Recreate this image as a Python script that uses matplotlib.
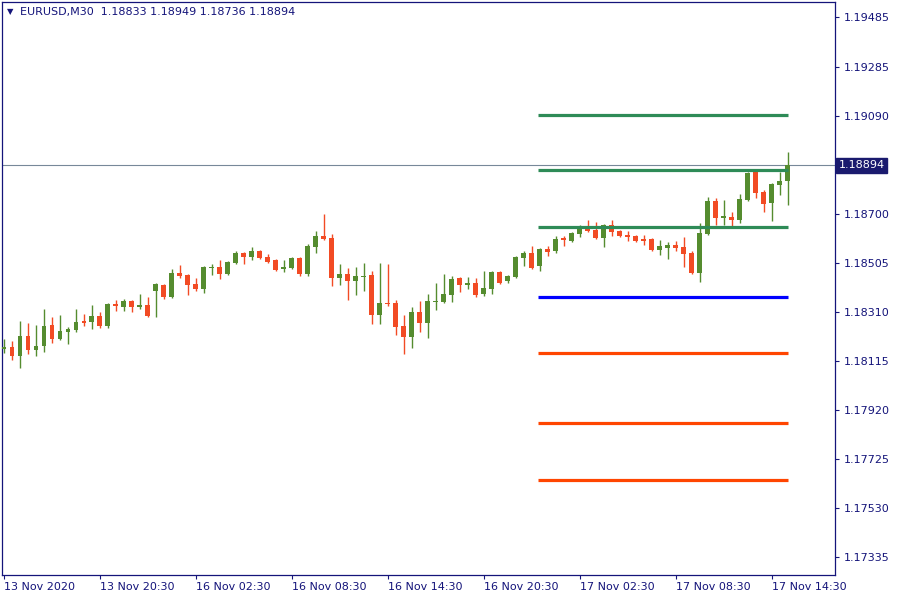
import numpy as np
import matplotlib
matplotlib.use("Agg")
import matplotlib.pyplot as plt
from matplotlib.transforms import blended_transform_factory

# EURUSD M30 candles, 13 Nov 14:30 .. 17 Nov 15:30
opens = [1.18163, 1.18171, 1.18135, 1.18215, 1.18159, 1.18175, 1.18259, 1.18203, 1.18231, 1.18239,
         1.18275, 1.18271, 1.18294, 1.18255, 1.18342, 1.18330, 1.18354, 1.18330, 1.18338, 1.18394,
         1.18418, 1.18370, 1.18466, 1.18458, 1.18422, 1.18402, 1.18486, 1.18490, 1.18462, 1.18505,
         1.18545, 1.18529, 1.18553, 1.18529, 1.18517, 1.18482, 1.18486, 1.18525, 1.18462, 1.18569,
         1.18613, 1.18605, 1.18446, 1.18462, 1.18434, 1.18450, 1.18458, 1.18298, 1.18346, 1.18346,
         1.18255, 1.18211, 1.18310, 1.18267, 1.18350, 1.18350, 1.18378, 1.18446, 1.18418, 1.18426,
         1.18382, 1.18402, 1.18470, 1.18434, 1.18450, 1.18525, 1.18545, 1.18494, 1.18561, 1.18553,
         1.18605, 1.18593, 1.18621, 1.18649, 1.18637, 1.18605, 1.18657, 1.18633, 1.18617, 1.18613,
         1.18601, 1.18601, 1.18557, 1.18565, 1.18577, 1.18569, 1.18545, 1.18466, 1.18621, 1.18752,
         1.18685, 1.18689, 1.18677, 1.18756, 1.18872, 1.18788, 1.18744, 1.18816, 1.18833]
highs = [1.18203, 1.18195, 1.18275, 1.18267, 1.18259, 1.18322, 1.18290, 1.18298, 1.18251, 1.18322,
         1.18302, 1.18338, 1.18310, 1.18346, 1.18358, 1.18362, 1.18358, 1.18382, 1.18370, 1.18424,
         1.18420, 1.18482, 1.18498, 1.18460, 1.18446, 1.18494, 1.18502, 1.18517, 1.18513, 1.18553,
         1.18549, 1.18569, 1.18557, 1.18541, 1.18521, 1.18517, 1.18529, 1.18529, 1.18581, 1.18633,
         1.18701, 1.18621, 1.18502, 1.18486, 1.18490, 1.18505, 1.18474, 1.18505, 1.18502, 1.18358,
         1.18298, 1.18330, 1.18354, 1.18382, 1.18426, 1.18462, 1.18454, 1.18450, 1.18450, 1.18446,
         1.18474, 1.18474, 1.18474, 1.18458, 1.18533, 1.18553, 1.18573, 1.18565, 1.18573, 1.18613,
         1.18613, 1.18629, 1.18657, 1.18677, 1.18669, 1.18661, 1.18677, 1.18637, 1.18633, 1.18617,
         1.18617, 1.18605, 1.18597, 1.18589, 1.18593, 1.18609, 1.18553, 1.18665, 1.18768, 1.18764,
         1.18756, 1.18709, 1.18780, 1.18868, 1.18876, 1.18796, 1.18824, 1.18868, 1.18949]
lows = [1.18147, 1.18119, 1.18087, 1.18143, 1.18135, 1.18151, 1.18187, 1.18199, 1.18183, 1.18231,
        1.18255, 1.18243, 1.18247, 1.18247, 1.18314, 1.18314, 1.18310, 1.18322, 1.18292, 1.18290,
        1.18362, 1.18366, 1.18446, 1.18378, 1.18394, 1.18386, 1.18458, 1.18442, 1.18458, 1.18501,
        1.18502, 1.18517, 1.18521, 1.18505, 1.18474, 1.18470, 1.18482, 1.18454, 1.18454, 1.18545,
        1.18597, 1.18414, 1.18418, 1.18358, 1.18378, 1.18394, 1.18263, 1.18263, 1.18334, 1.18219,
        1.18143, 1.18167, 1.18231, 1.18207, 1.18318, 1.18346, 1.18350, 1.18390, 1.18402, 1.18370,
        1.18374, 1.18382, 1.18422, 1.18426, 1.18446, 1.18494, 1.18482, 1.18474, 1.18533, 1.18545,
        1.18573, 1.18589, 1.18609, 1.18629, 1.18601, 1.18569, 1.18613, 1.18609, 1.18593, 1.18589,
        1.18577, 1.18553, 1.18537, 1.18521, 1.18553, 1.18490, 1.18462, 1.18430, 1.18617, 1.18657,
        1.18657, 1.18645, 1.18665, 1.18752, 1.18764, 1.18709, 1.18673, 1.18776, 1.18736]
closes = [1.18171, 1.18135, 1.18215, 1.18159, 1.18175, 1.18255, 1.18203, 1.18235, 1.18243, 1.18271,
          1.18267, 1.18294, 1.18255, 1.18342, 1.18334, 1.18354, 1.18330, 1.18338, 1.18294, 1.18422,
          1.18370, 1.18466, 1.18454, 1.18418, 1.18402, 1.18490, 1.18490, 1.18462, 1.18509, 1.18545,
          1.18529, 1.18553, 1.18525, 1.18509, 1.18478, 1.18490, 1.18525, 1.18462, 1.18573, 1.18613,
          1.18601, 1.18446, 1.18462, 1.18434, 1.18454, 1.18454, 1.18298, 1.18346, 1.18342, 1.18251,
          1.18211, 1.18310, 1.18267, 1.18354, 1.18354, 1.18382, 1.18442, 1.18418, 1.18426, 1.18378,
          1.18406, 1.18470, 1.18426, 1.18454, 1.18529, 1.18545, 1.18486, 1.18561, 1.18549, 1.18601,
          1.18597, 1.18625, 1.18653, 1.18633, 1.18605, 1.18657, 1.18629, 1.18613, 1.18609, 1.18593,
          1.18593, 1.18557, 1.18573, 1.18577, 1.18565, 1.18541, 1.18466, 1.18625, 1.18752, 1.18685,
          1.18693, 1.18677, 1.18760, 1.18864, 1.18784, 1.18740, 1.18820, 1.18832, 1.18894]

# pivot levels R3, R2, R1, P, S1, S2, S3
levels = [1.19095, 1.18876, 1.18649, 1.18370, 1.18147, 1.17868, 1.17642]
level_colors = ["#2e8b57", "#2e8b57", "#2e8b57", "#0000ff", "#ff4500", "#ff4500", "#ff4500"]
level_start, level_end = 66.8, 98

y_ticks = [1.19485, 1.19285, 1.19090, 1.18700, 1.18505, 1.18310, 1.18115,
           1.17920, 1.17725, 1.17530, 1.17335]
x_tick_pos = [0, 12, 24, 36, 48, 60, 72, 84, 96]
x_tick_labels = ["13 Nov 2020", "13 Nov 20:30", "16 Nov 02:30", "16 Nov 08:30",
                 "16 Nov 14:30", "16 Nov 20:30", "17 Nov 02:30", "17 Nov 08:30",
                 "17 Nov 14:30"]

navy = "#14147a"
up_col = "#558c2f"
dn_col = "#f24b24"

o = np.array(opens)
h = np.array(highs)
l = np.array(lows)
c = np.array(closes)
idx = np.arange(len(o))
up = c >= o
cols = np.where(up, up_col, dn_col)

fig = plt.figure(figsize=(9, 6), dpi=100)
ax = fig.add_axes([2 / 900, 25 / 600, 833 / 900, 573 / 600])

ax.axhline(c[-1], color="#778899", lw=0.8, zorder=1)

ax.vlines(idx, l, h, colors=cols, lw=1.0, zorder=2)
body_h = np.maximum(np.abs(c - o), 0.00003)
ax.bar(idx, body_h, bottom=np.minimum(o, c), width=0.62, color=cols, lw=0, zorder=3)

ax.hlines(levels, level_start, level_end, colors=level_colors, lw=2.3, zorder=4)

ax.set_xlim(-0.25, 103.9)
ax.set_ylim(1.17263, 1.19545)

ax.yaxis.tick_right()
ax.set_yticks(y_ticks)
ax.set_yticklabels(["%.5f" % v for v in y_ticks])
ax.set_xticks(x_tick_pos)
ax.set_xticklabels(x_tick_labels, ha="left")
ax.tick_params(axis="both", direction="out", length=3, width=0.8, color=navy,
               labelcolor=navy, labelsize=8)
ax.tick_params(axis="y", pad=3)
ax.tick_params(axis="x", pad=2)
for lab in ax.get_xticklabels():
    lab.set_x(lab.get_position()[0])
for sp in ax.spines.values():
    sp.set_color(navy)
    sp.set_linewidth(0.9)

# current price tag
tr = blended_transform_factory(ax.transAxes, ax.transData)
ax.text(1.004, c[-1], "%.5f" % c[-1], transform=tr, color="white", fontsize=8,
        va="center", ha="left",
        bbox=dict(boxstyle="square,pad=0.25", fc="#1a1a6e", ec="#1a1a6e"),
        clip_on=False)

# header
fig.text(7 / 900, 1 - 12 / 600, "\u25bc", color=navy, fontsize=6, va="center", ha="left")
fig.text(20 / 900, 1 - 12 / 600, "EURUSD,M30  %.5f %.5f %.5f %.5f" % (o[-1], h[-1], l[-1], c[-1]),
         color=navy, fontsize=8, va="center", ha="left")

fig.savefig("out.png", dpi=100, facecolor="white")
